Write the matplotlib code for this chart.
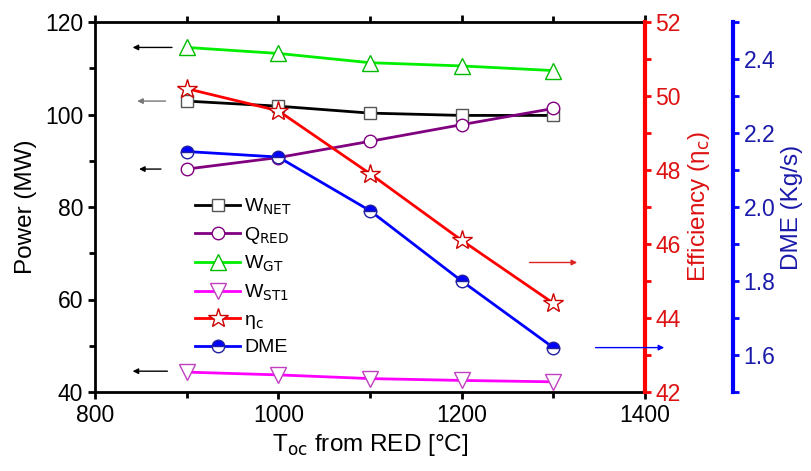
import numpy as np
import matplotlib.pyplot as plt
from matplotlib.ticker import MultipleLocator

plt.rcParams['font.family'] = ['Liberation Sans', 'DejaVu Sans']

temps = [900, 1000, 1100, 1200, 1300]
w_net = [102.9, 101.8, 100.3, 99.8, 99.8]
q_red = [88.2, 90.7, 94.2, 97.8, 101.3]
w_gt = [114.5, 113.2, 111.2, 110.5, 109.5]
w_st1 = [44.3, 43.7, 42.9, 42.5, 42.2]
eff = [50.2, 49.6, 47.9, 46.1, 44.4]
dme = [2.15, 2.135, 1.99, 1.80, 1.62]

fig = plt.figure(figsize=(8.11, 4.71), dpi=100)
ax = fig.add_axes([95/811, 79/471, 550/811, 370/471])
ax2 = ax.twinx()
ax3 = ax.twinx()

lw = 2
ms = 9
l1, = ax.plot(temps, w_net, color='black', lw=lw, marker='s', ms=ms,
              mfc='white', mec='#555555', mew=1, label=r'W$_{\mathrm{NET}}$')
l2, = ax.plot(temps, q_red, color='#800080', lw=lw, marker='o', ms=ms,
              mfc='white', mec='#800080', mew=1, label=r'Q$_{\mathrm{RED}}$')
l3, = ax.plot(temps, w_gt, color='#00ee00', lw=lw, marker='^', ms=ms + 2,
              mfc='white', mec='#00bb00', mew=1, label=r'W$_{\mathrm{GT}}$')
l4, = ax.plot(temps, w_st1, color='#ff00ff', lw=lw, marker='v', ms=ms + 2,
              mfc='white', mec='#c040c0', mew=1, label=r'W$_{\mathrm{ST1}}$')
l5, = ax2.plot(temps, eff, color='red', lw=lw, marker='*', ms=ms + 6,
               mfc='white', mec='#cc0000', mew=1, label=r'η$_{\mathrm{c}}$')
l6, = ax3.plot(temps, dme, color='blue', lw=lw, marker='o', ms=ms,
               fillstyle='top', mfc='blue', mfcalt='white', mec='#2020a0',
               mew=1, label='DME')

ax.set_xlim(800, 1400)
ax.set_ylim(40, 120)
ax2.set_ylim(42, 52)
ax3.set_ylim(1.5, 2.5)

ax.xaxis.set_major_locator(MultipleLocator(200))
ax.xaxis.set_minor_locator(MultipleLocator(100))
ax.yaxis.set_major_locator(MultipleLocator(20))
ax.yaxis.set_minor_locator(MultipleLocator(10))
ax2.yaxis.set_major_locator(MultipleLocator(2))
ax2.yaxis.set_minor_locator(MultipleLocator(1))
ax3.set_yticks([1.6, 1.8, 2.0, 2.2, 2.4])
ax3.set_yticks([1.5, 1.7, 1.9, 2.1, 2.3, 2.5], minor=True)

tsize = 16.5
for s in ax.spines.values():
    s.set_linewidth(2)
ax.spines['right'].set_visible(False)
ax.tick_params(which='both', labelsize=tsize, width=2, direction='out', top=True)
ax.tick_params(which='major', length=5)
ax.tick_params(which='minor', length=4)

ax2.spines['right'].set_color('red')
ax2.spines['right'].set_linewidth(3)
for k in ['left', 'top', 'bottom']:
    ax2.spines[k].set_visible(False)
ax2.tick_params(which='both', colors='red', labelsize=tsize, width=2, length=4)
ax2.tick_params(axis='y', labelcolor='#dd1111')

ax3.spines['right'].set_position(('outward', 63.4))
ax3.spines['right'].set_color('blue')
ax3.spines['right'].set_linewidth(3)
for k in ['left', 'top', 'bottom']:
    ax3.spines[k].set_visible(False)
ax3.tick_params(which='both', colors='blue', labelsize=tsize, width=2, length=4)
ax3.tick_params(axis='y', labelcolor='#1a1aaa')
ax3.yaxis.set_major_formatter(plt.FormatStrFormatter('%.1f'))

lsize = 17.5
ax.set_xlabel(r'T$_{\mathrm{oc}}$ from RED [°C]', fontsize=lsize, labelpad=4)
ax.set_ylabel('Power (MW)', fontsize=lsize, labelpad=6)
ax2.set_ylabel(r'Efficiency (η$_{\mathrm{c}}$)', fontsize=lsize, color='#dd1111',
               labelpad=4)
ax3.set_ylabel('DME (Kg/s)', fontsize=lsize, color='#1a1aaa', labelpad=4)

arrow_kw = dict(arrowstyle='-|>', lw=1, mutation_scale=8)
ax.annotate('', xy=(838, 114.5), xytext=(887, 114.5),
            arrowprops=dict(color='black', **arrow_kw))
ax.annotate('', xy=(843, 102.9), xytext=(880, 102.9),
            arrowprops=dict(color='#777777', **arrow_kw))
ax.annotate('', xy=(845, 88.2), xytext=(875, 88.2),
            arrowprops=dict(color='black', **arrow_kw))
ax.annotate('', xy=(838, 44.5), xytext=(882, 44.5),
            arrowprops=dict(color='black', **arrow_kw))
ax2.annotate('', xy=(1329, 45.5), xytext=(1271, 45.5),
             arrowprops=dict(color='#dd2222', **arrow_kw))
ax3.annotate('', xy=(1424, 1.62), xytext=(1343, 1.62), annotation_clip=False,
             arrowprops=dict(color='blue', **arrow_kw))

ax.legend(handles=[l1, l2, l3, l4, l5, l6], loc='upper left',
          bbox_to_anchor=(0.165, 0.555), frameon=False, fontsize=14,
          handlelength=2.3, handletextpad=0.2, labelspacing=0.42,
          borderpad=0)

fig.savefig('out.png', dpi=100)
